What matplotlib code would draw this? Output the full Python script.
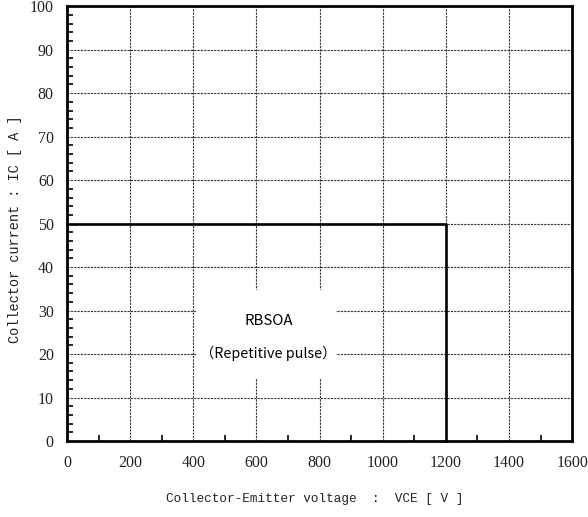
import matplotlib
matplotlib.use('Agg')

import matplotlib.pyplot as plt
from matplotlib.patches import Rectangle
from matplotlib.ticker import MultipleLocator

# --- Data: RBSOA boundary ---
VCE = [0, 1200, 1200]
IC = [50, 50, 0]

X_TICKS = [0, 200, 400, 600, 800, 1000, 1200, 1400, 1600]
Y_TICKS = [0, 10, 20, 30, 40, 50, 60, 70, 80, 90, 100]

TICK_FONT = 'Liberation Serif'
LABEL_FONT = 'Liberation Mono'
TEXT_FONT = ['Noto Sans CJK JP', 'DejaVu Sans']

fig = plt.figure(figsize=(5.88, 5.17), dpi=100)
ax = fig.add_axes([0.114, 0.147, 0.859, 0.841])

ax.set_xlim(0, 1600)
ax.set_ylim(0, 100)
ax.set_xticks(X_TICKS)
ax.set_yticks(Y_TICKS)
ax.xaxis.set_minor_locator(MultipleLocator(100))
ax.yaxis.set_minor_locator(MultipleLocator(2))
ax.tick_params(which='both', direction='in', length=4, width=1.2, color='black')
ax.tick_params(which='major', length=0)
ax.tick_params(axis='x', which='major', pad=10)
ax.tick_params(axis='y', which='major', pad=9.5)
for lbl in ax.get_xticklabels() + ax.get_yticklabels():
    lbl.set_fontfamily(TICK_FONT)
    lbl.set_fontsize(11.5)
    lbl.set_color('#222222')

ax.grid(True, which='major', color='#333333', lw=0.8, ls=(0, (2, 1)))
ax.set_axisbelow(True)
for sp in ax.spines.values():
    sp.set_linewidth(2.0)

# white panel behind the annotation
ax.add_patch(Rectangle((408, 14.6), 444, 20.2, facecolor='white',
                       edgecolor='none', zorder=1.5))

ax.plot(VCE, IC, color='black', lw=1.9, zorder=3, clip_on=False)

ax.text(640, 27.6, 'RBSOA', family=TEXT_FONT, fontsize=10.8,
        ha='center', va='center', zorder=4)
ax.text(636, 20.2, '（Repetitive pulse）', family=TEXT_FONT, fontsize=10.3,
        ha='center', va='center', zorder=4)

ax.set_xlabel('Collector-Emitter voltage  :  VCE [ V ]', family=LABEL_FONT,
              fontsize=9.2, color='#222222', va='center')
ax.set_ylabel('Collector current : IC [ A ]', family=LABEL_FONT,
              fontsize=9.8, color='#222222', va='center')
ax.xaxis.set_label_coords(0.49, -0.133)
ax.yaxis.set_label_coords(-0.103, 0.487)

fig.savefig('out.png', dpi=100)
